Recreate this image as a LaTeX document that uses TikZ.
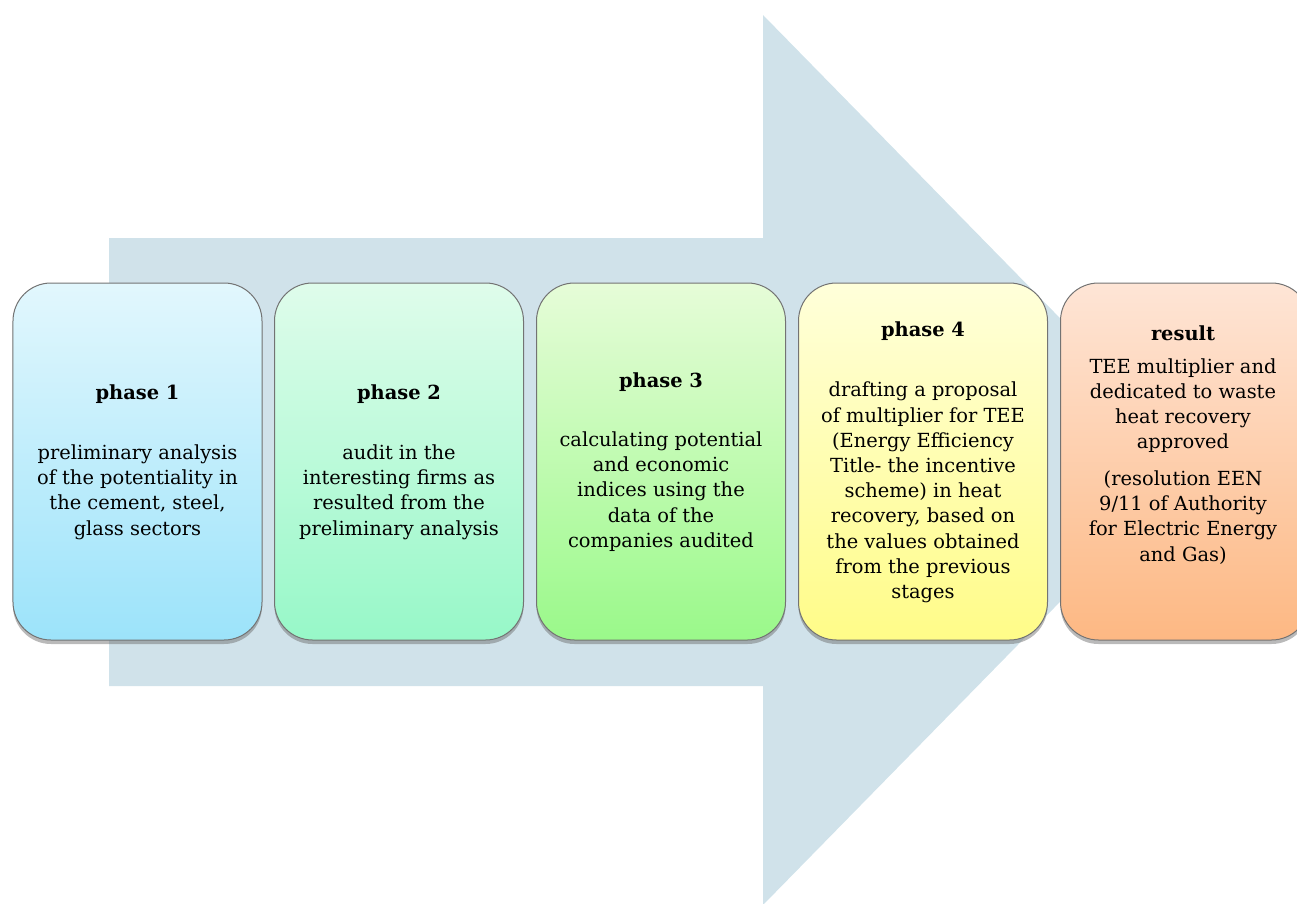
\documentclass[tikz,border=0pt]{standalone}
\usepackage{fontspec}
\setmainfont{DejaVu Serif}
\usetikzlibrary{shadows}
\definecolor{arrowc}{HTML}{D0E2EA}
\definecolor{c1t}{HTML}{E2F7FD}
\definecolor{c1b}{HTML}{9CE3FA}
\definecolor{c2t}{HTML}{DFFCEB}
\definecolor{c2b}{HTML}{97F8C8}
\definecolor{c3t}{HTML}{E6FCD8}
\definecolor{c3b}{HTML}{9AF98A}
\definecolor{c4t}{HTML}{FFFFDA}
\definecolor{c4b}{HTML}{FFFC88}
\definecolor{c5t}{HTML}{FEE5D6}
\definecolor{c5b}{HTML}{FDB883}
\begin{document}
\begin{tikzpicture}[x=1bp,y=-1bp,
  card/.style={rounded corners=38bp, draw=black!55, line width=1bp,
    minimum width=249bp, minimum height=357bp, inner sep=0pt,
    drop shadow={shadow xshift=0bp, shadow yshift=-4bp, opacity=0.45, fill=black!60}},
  ttl/.style={font=\fontsize{19.5}{25.3}\selectfont\bfseries, align=center, inner sep=0pt},
  bdy/.style={font=\fontsize{19.5}{25.3}\selectfont, align=center, inner sep=0pt}]
\useasboundingbox (0,0) rectangle (1297,904);
\clip (0,0) rectangle (1297,904);
\fill[arrowc] (109,238) -- (763,238) -- (763,15) -- (1199,460) -- (763,905) -- (763,686) -- (109,686) -- cycle;

\node[card, top color=c1t, bottom color=c1b] (b1) at (137.5,461.5) {};
\node[card, top color=c2t, bottom color=c2b] (b2) at (399,461.5) {};
\node[card, top color=c3t, bottom color=c3b] (b3) at (661,461.5) {};
\node[card, top color=c4t, bottom color=c4b] (b4) at (923,461.5) {};
\node[card, top color=c5t, bottom color=c5b] (b5) at (1185,461.5) {};

\node[ttl] (t1) at (137.5,394) {phase 1};
\node[bdy] (d1) at (137.5,492) {preliminary analysis\\of the potentiality in\\the cement, steel,\\glass sectors};

\node[ttl] (t2) at (399,394) {phase 2};
\node[bdy] (d2) at (399,492) {audit in the\\interesting firms as\\resulted from the\\preliminary analysis};

\node[ttl] (t3) at (661,382) {phase 3};
\node[bdy] (d3) at (661,491.5) {calculating potential\\and economic\\indices using the\\data of the\\companies audited};

\node[ttl] (t4) at (923,331) {phase 4};
\node[bdy] (d4) at (923,492.5) {drafting a proposal\\of multiplier for TEE\\(Energy Efficiency\\Title- the incentive\\scheme) in heat\\recovery, based on\\the values obtained\\from the previous\\stages};

\node[ttl] (t5) at (1183,333) {result};
\node[bdy] (d5) at (1183,405.5) {TEE multiplier and\\dedicated to waste\\heat recovery\\approved};
\node[bdy] (e5) at (1183,517.5) {(resolution EEN\\9/11 of Authority\\for Electric Energy\\and Gas)};
\end{tikzpicture}
\end{document}
